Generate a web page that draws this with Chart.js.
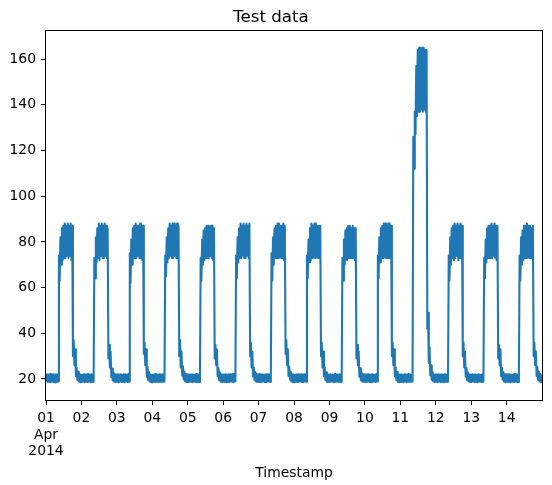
<!DOCTYPE html>
<html><head><meta charset="utf-8">
<script src="https://cdn.jsdelivr.net/npm/chart.js@4.4.1/dist/chart.umd.min.js"></script>
<style>html,body{margin:0;padding:0;background:#fff}#wrap{width:552px;height:485px;position:relative}</style>
</head><body><div id="wrap"><canvas id="c" width="552" height="485"></canvas></div>
<script>
// Tick labels
const dayLabels = ['01','02','03','04','05','06','07','08','09','10','11','12','13','14'];
const monthLabel = 'Apr';
const yearLabel = '2014';
const yTicks = [20, 40, 60, 80, 100, 120, 140, 160];

// Hourly envelope readings (min / max of the 5-minute series within each hour), hours 0..23
const day01Lo = [18.9,18.7,18.8,18.6,18.9,18.7,18.5,18.8,18.9,63,70,72,73,73,74,73,74,72,30,26,21.2,19.6,18.9,18.6];
const day01Hi = [22.0,21.8,22.2,21.9,22.1,21.7,22.0,21.9,74,82,86,87,88,87,88,87,88,87,37,33,25.0,23.1,22.2,21.8];
const day02Lo = [18.7,18.9,18.6,18.8,18.7,18.9,18.6,18.8,18.7,64,71,73,72,74,73,73,74,73,29,25,20.8,19.4,18.8,18.7];
const day02Hi = [21.8,22.1,21.9,22.0,22.2,21.8,22.1,21.9,73,82,86,88,87,88,87,88,87,86,35,32,24.6,22.8,22.1,21.9];
const day03Lo = [18.8,18.6,18.9,18.7,18.8,18.6,18.9,18.7,18.8,62,70,73,73,73,74,73,73,72,31,26,21.0,19.5,18.9,18.6];
const day03Hi = [22.1,21.9,22.0,21.8,22.1,22.0,21.8,22.2,75,81,86,87,88,87,87,88,87,87,36,33,25.2,23.0,22.0,21.8];
const day04Lo = [18.6,18.8,18.7,18.9,18.6,18.8,18.7,18.9,18.8,65,71,73,74,73,73,74,73,73,30,25,21.4,19.8,19.0,18.7];
const day04Hi = [21.9,22.0,22.2,21.8,22.0,21.9,22.1,21.8,74,82,86,88,87,88,88,87,88,87,37,32,25.5,23.2,22.3,22.0];
const day05Lo = [18.7,18.9,18.8,18.6,18.9,18.7,18.8,18.6,18.7,63,70,72,73,73,73,74,73,72,29,26,21.1,19.6,18.8,18.7];
const day05Hi = [22.0,21.8,22.1,21.9,21.8,22.2,21.9,22.0,73,81,85,86,87,87,86,87,87,86,35,33,24.8,22.9,22.1,21.9];
const day06Lo = [18.9,18.7,18.6,18.8,18.7,18.9,18.8,18.7,18.9,64,71,73,73,74,73,73,74,73,30,25,21.0,19.5,18.9,18.7];
const day06Hi = [21.9,22.1,21.8,22.0,22.1,21.9,22.2,21.8,74,82,86,88,87,88,87,88,87,88,36,32,24.9,23.0,22.2,22.0];
const day07Lo = [18.8,18.6,18.8,18.9,18.7,18.6,18.9,18.8,18.7,63,70,73,73,73,74,73,73,72,31,26,21.3,19.7,18.9,18.6];
const day07Hi = [22.2,21.9,22.0,21.8,22.1,22.0,21.9,22.1,75,82,86,87,88,88,87,87,88,87,37,33,25.3,23.1,22.0,21.9];
const day08Lo = [18.6,18.8,18.7,18.8,18.9,18.7,18.6,18.9,18.8,64,71,72,73,74,73,74,73,73,30,25,21.2,19.6,18.8,18.8];
const day08Hi = [21.8,22.0,22.1,21.9,22.0,21.8,22.1,22.0,74,81,86,88,87,88,88,87,87,87,36,32,25.0,22.9,22.1,21.9];
const day09Lo = [18.7,18.9,18.8,18.6,18.8,18.9,18.7,18.8,18.6,63,70,72,73,73,73,73,74,72,29,26,21.0,19.5,18.9,18.7];
const day09Hi = [22.0,21.9,21.8,22.2,22.0,21.9,22.1,21.8,73,81,85,86,87,87,86,87,86,86,35,32,24.7,22.8,22.0,22.1];
const day10Lo = [18.8,18.7,18.9,18.7,18.6,18.8,18.9,18.7,18.9,64,71,73,73,74,73,73,73,73,30,26,21.1,19.6,18.8,18.6];
const day10Hi = [21.9,22.1,22.0,21.8,22.1,22.0,21.8,22.2,74,82,86,87,88,88,87,88,88,87,36,33,25.1,23.0,22.1,21.9];
const day11Lo = [18.7,18.8,18.6,18.9,18.7,18.8,18.7,18.9,18.8,112,127,135,137,137,138,137,138,137,42,27,21.5,19.6,18.9,18.7];
const day11Hi = [22.0,21.8,22.1,21.9,22.0,22.2,21.9,21.8,126,137,157,164,165,165,165,165,164,164,49,34,26.0,23.2,22.1,21.9];
const day12Lo = [18.8,18.6,18.9,18.7,18.8,18.6,18.8,18.7,18.8,63,70,73,72,73,74,72,73,73,30,25,21.0,19.5,18.9,18.7];
const day12Hi = [21.9,22.0,21.8,22.1,21.9,22.1,22.0,21.8,74,82,86,87,88,87,88,87,88,87,36,32,24.8,22.9,22.0,21.9];
const day13Lo = [18.7,18.9,18.7,18.8,18.6,18.9,18.8,18.7,18.8,64,71,73,73,73,73,74,73,72,29,26,21.2,19.7,18.8,18.6];
const day13Hi = [22.1,21.9,22.0,21.8,22.1,21.9,21.8,22.0,73,81,86,87,87,88,87,88,87,87,35,33,25.0,23.0,22.1,22.0];
const day14Lo = [18.8,18.7,18.6,18.9,18.8,18.7,18.9,18.6,18.7,63,70,72,73,73,74,73,73,73,30,26,21.3,19.6,18.9,18.7];
const day14Hi = [22.0,22.1,21.9,21.8,22.0,22.2,21.9,22.1,74,82,85,87,87,88,87,87,86,87,36,32,25.2,23.1,22.2,22.0];

const days = [
  [day01Lo, day01Hi], [day02Lo, day02Hi], [day03Lo, day03Hi], [day04Lo, day04Hi],
  [day05Lo, day05Hi], [day06Lo, day06Hi], [day07Lo, day07Hi], [day08Lo, day08Hi],
  [day09Lo, day09Hi], [day10Lo, day10Hi], [day11Lo, day11Hi], [day12Lo, day12Hi],
  [day13Lo, day13Hi], [day14Lo, day14Hi]
];

// x in days since 2014-04-01 00:00; each hour contributes its min then its max
const points = [];
days.forEach(([lo, hi], d) => {
  for (let h = 0; h < 24; h++) {
    points.push({x: d + (h + 0.25) / 24, y: lo[h]});
    points.push({x: d + (h + 0.75) / 24, y: hi[h]});
  }
});

const FONT = 'DejaVu Sans';
Chart.defaults.color = '#000';
Chart.defaults.font.family = FONT;

const boxPlugin = {
  id: 'box',
  afterDatasetsDraw(chart) {
    const {ctx, chartArea: a} = chart;
    ctx.save();
    ctx.strokeStyle = '#000';
    ctx.lineWidth = 1;
    ctx.strokeRect(Math.round(a.left) - 0.5, Math.round(a.top) - 0.5, Math.round(a.right - a.left) + 1, Math.round(a.bottom - a.top) + 1);
    ctx.restore();
  }
};

new Chart(document.getElementById('c'), {
  type: 'line',
  data: {
    datasets: [{
      data: points,
      borderColor: '#1f77b4',
      borderWidth: 2.08,
      borderJoinStyle: 'round',
      borderCapStyle: 'butt',
      pointRadius: 0,
      tension: 0,
      fill: false
    }]
  },
  options: {
    responsive: false,
    animation: false,
    events: [],
    layout: {padding: {left: 0, right: 10, top: 0, bottom: 0}},
    plugins: {
      legend: {display: false},
      tooltip: {enabled: false},
      title: {
        display: true,
        text: 'Test data',
        color: '#000',
        font: {family: FONT, size: 16.67, weight: 'normal'},
        padding: {top: 8, bottom: 3}
      }
    },
    scales: {
      x: {
        type: 'linear',
        min: 0,
        max: 14 - 5 / 1440,
        afterFit(s) { s.height = 85; },
        afterBuildTicks(s) { s.ticks = dayLabels.map((_, i) => ({value: i})); },
        ticks: {
          autoSkip: false,
          maxRotation: 0,
          minRotation: 0,
          padding: 5,
          color: '#000',
          font: {family: FONT, size: 13.9},
          callback: (v, i) => i === 0 ? [dayLabels[0], monthLabel, yearLabel] : dayLabels[i]
        },
        grid: {display: true, drawOnChartArea: false, drawTicks: true, tickLength: 5, color: '#000', lineWidth: 1},
        border: {display: false},
        title: {
          display: true,
          text: 'Timestamp',
          color: '#000',
          font: {family: FONT, size: 13.9},
          padding: {top: 4, bottom: 3}
        }
      },
      y: {
        type: 'linear',
        min: 10.8,
        max: 172.3,
        afterFit(s) { s.width = 46; },
        afterBuildTicks(s) { s.ticks = yTicks.map(v => ({value: v})); },
        ticks: {
          padding: 5,
          color: '#000',
          font: {family: FONT, size: 13.9},
          callback: v => String(v)
        },
        grid: {display: true, drawOnChartArea: false, drawTicks: true, tickLength: 5, color: '#000', lineWidth: 1},
        border: {display: false}
      }
    }
  },
  plugins: [boxPlugin]
});
</script>
</body></html>
